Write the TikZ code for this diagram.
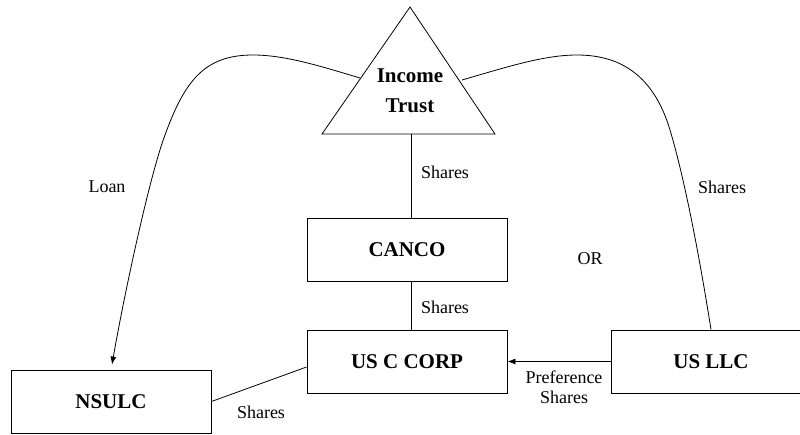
\documentclass[tikz,border=0pt]{standalone}
\usepackage{fontspec}
\setmainfont{Liberation Serif}
\usetikzlibrary{arrows.meta,calc}

\tikzset{
  entity/.style={draw, line width=0.9pt, minimum width=200pt, minimum height=63pt,
    inner sep=0pt, font=\fontsize{21}{24}\selectfont\bfseries},
  link/.style={line width=0.8pt},
  flow/.style={line width=0.8pt, -{Latex[length=8pt,width=6pt]}},
  lbl/.style={font=\fontsize{18}{20}\selectfont, inner sep=0pt}
}

\begin{document}
\begin{tikzpicture}[x=1pt,y=-1pt]
  \useasboundingbox (0,0) rectangle (800,434);
  \clip (0,0) rectangle (800,434);

  % trust at the top, drawn as a triangle
  \coordinate (apex) at (410,7);
  \coordinate (bl) at (322,134);
  \coordinate (br) at (495,134);
  \draw[link] (apex) -- (bl) -- (br) -- cycle;
  \node[align=center, inner sep=0pt, font=\fontsize{21}{30}\selectfont\bfseries]
    (trust) at (410,90.5) {Income\\Trust};
  \coordinate (tbase) at (411,134);
  \coordinate (tleft) at (360,78);
  \coordinate (tright) at (462,80);

  % entities
  \node[entity] (canco) at (407,250) {CANCO};
  \node[entity] (usc) at (407,361.5) {US C CORP};
  \node[entity] (usllc) at (711,361.5) {US LLC};
  \node[entity] (nsulc) at (111,401.5) {NSULC};

  % ownership links
  \draw[link] (tbase) -- (tbase |- canco.north);
  \draw[link] (canco.south -| tbase) -- (tbase |- usc.north);
  \draw[link] (nsulc.east) -- ([yshift=-5.5pt]usc.west);
  \draw[flow] (usllc.west) -- (usc.east);

  % loan from the trust down to NSULC
  \coordinate (loanend) at ([xshift=1pt,yshift=5pt]nsulc.north);
  \draw[flow] (tleft) .. controls (320,66) and (285,55) .. (253,55)
    .. controls (205,55) and (185,80) .. (165,135)
    .. controls (150,175) and (125,290) .. (loanend);

  % shares held by the trust in US LLC
  \draw[link] (tright) .. controls (510,66) and (545,55) .. (577,55)
    .. controls (625,55) and (655,80) .. (670,130)
    .. controls (685,180) and (700,260) .. (usllc.north);

  % labels
  \node[lbl] (l1) at (445,172) {Shares};
  \node[lbl] (l2) at (445,307) {Shares};
  \node[lbl] (l3) at (107,187) {Loan};
  \node[lbl] (l4) at (722,187) {Shares};
  \node[lbl] (l5) at (261,412) {Shares};
  \node[lbl] (l6) at (590,259) {OR};
  \node[lbl, align=center, font=\fontsize{18}{19.5}\selectfont] (l7) at (564,387) {Preference\\Shares};
\end{tikzpicture}
\end{document}
